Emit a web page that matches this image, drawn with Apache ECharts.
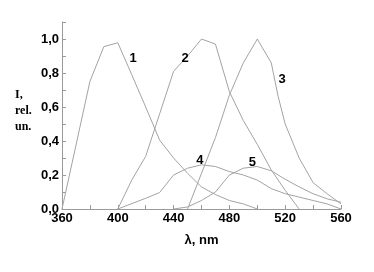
<!DOCTYPE html>
<html><head><meta charset="utf-8">
<script src="https://cdn.jsdelivr.net/npm/echarts@6/dist/echarts.min.js"></script>
<style>html,body{margin:0;padding:0;background:#fff}#c{width:374px;height:272px}</style>
</head><body><div id="c"></div>
<script>
// wavelengths (nm) and relative intensities for each curve
const curve1 = [[360,0],[380,0.75],[390,0.955],[400,0.978],[410,0.79],[420,0.6],[430,0.405],[440,0.3],[450,0.21],[460,0.13],[470,0.085],[480,0.05],[490,0.03],[500,0]];
const curve2 = [[400,0],[410,0.17],[420,0.31],[430,0.56],[440,0.81],[450,0.9],[460,1.0],[470,0.97],[480,0.69],[490,0.52],[500,0.38],[510,0.23],[520,0.11],[530,0]];
const curve3 = [[450,0],[460,0.21],[470,0.42],[480,0.67],[490,0.86],[500,1.0],[510,0.86],[515,0.66],[520,0.5],[530,0.3],[540,0.155],[550,0.09],[560,0.03]];
const curve4 = [[400,0],[420,0.063],[430,0.097],[440,0.2],[450,0.24],[460,0.26],[470,0.25],[480,0.22],[490,0.2],[500,0.17],[510,0.12],[520,0.09],[530,0.07],[540,0.05],[550,0.03],[560,0]];
const curve5 = [[440,0],[450,0.012],[460,0.05],[470,0.1],[480,0.2],[490,0.24],[500,0.25],[510,0.225],[520,0.175],[530,0.13],[540,0.09],[550,0.06],[560,0.04]];
const curveNames = ['1','2','3','4','5'];
const curveLabelAt = [[410.9,0.888],[448.2,0.888],[517.7,0.765],[458.9,0.283],[496.5,0.272]];
const xTicks = [360,400,440,480,520,560];
const yTicks = [0,0.2,0.4,0.6,0.8,1.0];

const lineColor = '#a3a3a3';
const axisColor = '#9a9a9a';
const sans = 'Liberation Sans, Arial, sans-serif';
const chart = echarts.init(document.getElementById('c'), null, {renderer:'canvas'});
const curves = [curve1, curve2, curve3, curve4, curve5];
const series = curves.map((d,i)=>({
  type:'line', name:curveNames[i], data:d, showSymbol:false, symbol:'none',
  lineStyle:{color:lineColor, width:1}, silent:true, animation:false, z:2
}));
series.push({
  type:'scatter', symbolSize:0, silent:true, animation:false, z:5,
  itemStyle:{opacity:1, color:'#000'},
  data: curveLabelAt.map((p,i)=>({value:p, name:curveNames[i]})),
  label:{show:true, position:'inside', formatter:p=>p.name, color:'#000', opacity:1, fontFamily:sans, fontWeight:'bold', fontSize:13}
});
chart.setOption({
  animation:false,
  backgroundColor:'#fff',
  grid:{left:62, right:33, top:22, bottom:63, containLabel:false},
  xAxis:{type:'value', min:360, max:560, interval:20,
    axisLine:{show:true, lineStyle:{color:axisColor, width:1}},
    axisTick:{show:true, inside:true, length:4, lineStyle:{color:axisColor}},
    splitLine:{show:false},
    axisLabel:{color:'#000', fontFamily:sans, fontWeight:'bold', fontSize:13, margin:3,
      formatter:v=>xTicks.includes(v)?String(v):''},
    name:'λ, nm', nameLocation:'middle', nameGap:25,
    nameTextStyle:{color:'#000', fontFamily:sans, fontWeight:'bold', fontSize:13}
  },
  yAxis:{type:'value', min:0, max:1.1, interval:0.1,
    axisLine:{show:true, lineStyle:{color:axisColor, width:1}},
    axisTick:{show:true, inside:true, length:4, lineStyle:{color:axisColor}},
    splitLine:{show:false},
    axisLabel:{color:'#000', fontFamily:sans, fontWeight:'bold', fontSize:13, margin:3,
      formatter:v=>{const r=Math.round(v*10)/10; return yTicks.some(t=>Math.abs(t-r)<1e-6)?r.toFixed(1).replace('.',','):'';}}
  },
  graphic:[{type:'text', left:15, top:87, style:{text:'I,\nrel.\nun.', font:'bold 12px "Liberation Serif", "Times New Roman", serif', lineHeight:16, fill:'#000'}}],
  series:series
});
</script></body></html>
